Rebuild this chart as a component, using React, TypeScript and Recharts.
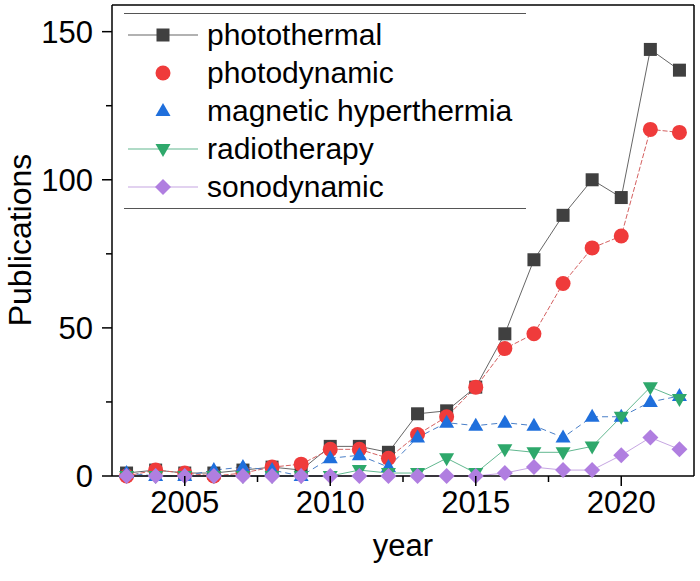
import { LineChart, Line, XAxis, YAxis, ReferenceLine, Label } from 'recharts';

const years = [2003, 2004, 2005, 2006, 2007, 2008, 2009, 2010, 2011, 2012, 2013, 2014, 2015, 2016, 2017, 2018, 2019, 2020, 2021, 2022];
const photothermal = [1, 2, 1, 1, 2, 3, 2, 10, 10, 8, 21, 22, 30, 48, 73, 88, 100, 94, 144, 137];
const photodynamic = [0, 2, 1, 0, 1, 3, 4, 9, 9, 6, 14, 20, 30, 43, 48, 65, 77, 81, 117, 116];
const magnetic = [1, 0, 0, 2, 3, 2, 0, 6, 7, 3, 13, 18, 17, 18, 17, 13, 20, 20, 25, 27];
const radiotherapy = [0, 0, 0, 0, 0, 0, 0, 0, 2, 1, 1, 6, 1, 9, 8, 8, 10, 20, 30, 26];
const sonodynamic = [0, 0, 0, 0, 0, 0, 0, 0, 0, 0, 0, 0, 0, 1, 3, 2, 2, 7, 13, 9];

const xTicks = [2005, 2007.5, 2010, 2012.5, 2015, 2017.5, 2020];
const yTicks = [0, 25, 50, 75, 100, 125, 150];
const X_MIN = 2002.5;
const X_MAX = 2022.5;
const Y_MAX = 159;

const FONT = '"Liberation Sans", Arial, sans-serif';

type Shape = 'square' | 'circle' | 'up' | 'down' | 'diamond';

const series: { key: string; label: string; color: string; line: string; shape: Shape; dash?: string; legendLine: boolean }[] = [
  { key: 'photothermal', label: 'photothermal', color: '#404040', line: '#666666', shape: 'square', legendLine: true },
  { key: 'photodynamic', label: 'photodynamic', color: '#ef3b3b', line: '#d46060', shape: 'circle', dash: '5 2', legendLine: false },
  { key: 'magnetic', label: 'magnetic hyperthermia', color: '#1f6fdc', line: '#4a7fc8', shape: 'up', dash: '6 4', legendLine: false },
  { key: 'radiotherapy', label: 'radiotherapy', color: '#2ea86b', line: '#62b890', shape: 'down', legendLine: true },
  { key: 'sonodynamic', label: 'sonodynamic', color: '#b07ee0', line: '#c6a6e2', shape: 'diamond', legendLine: true },
];

const data = years.map((year, i) => ({
  year,
  photothermal: photothermal[i],
  photodynamic: photodynamic[i],
  magnetic: magnetic[i],
  radiotherapy: radiotherapy[i],
  sonodynamic: sonodynamic[i],
}));

function marker(shape: Shape, cx: number, cy: number, color: string) {
  switch (shape) {
    case 'square':
      return <rect x={cx - 6.5} y={cy - 6.5} width={13} height={13} fill={color} />;
    case 'circle':
      return <circle cx={cx} cy={cy} r={7.5} fill={color} />;
    case 'up':
      return <polygon points={`${cx},${cy - 8} ${cx + 7.5},${cy + 5} ${cx - 7.5},${cy + 5}`} fill={color} />;
    case 'down':
      return <polygon points={`${cx},${cy + 8} ${cx + 7.5},${cy - 5} ${cx - 7.5},${cy - 5}`} fill={color} />;
    default:
      return <polygon points={`${cx},${cy - 8} ${cx + 8},${cy} ${cx},${cy + 8} ${cx - 8},${cy}`} fill={color} />;
  }
}

function XTick({ x, y, payload }: any) {
  const major = payload.value % 5 === 0;
  return (
    <g>
      <line x1={x} x2={x} y1={y} y2={y + (major ? 10 : 6)} stroke="#000" strokeWidth={1.5} />
      {major && (
        <text x={x} y={y + 37} textAnchor="middle" fontSize={31} fontFamily={FONT} fill="#000">
          {payload.value}
        </text>
      )}
    </g>
  );
}

function YTick({ x, y, payload }: any) {
  const major = payload.value % 50 === 0;
  return (
    <g>
      <line x1={x} x2={x - (major ? 10 : 6)} y1={y} y2={y} stroke="#000" strokeWidth={1.5} />
      {major && (
        <text x={x - 19} y={y + 11} textAnchor="end" fontSize={31} fontFamily={FONT} fill="#000">
          {payload.value}
        </text>
      )}
    </g>
  );
}

function ChartLegend() {
  return (
    <div
      style={{
        position: 'absolute',
        left: 124,
        top: 13,
        width: 402,
        borderTop: '1.5px solid #555',
        borderBottom: '1.5px solid #555',
        paddingTop: 2,
        paddingBottom: 2,
        fontFamily: FONT,
        fontSize: 30,
        color: '#000',
      }}
    >
      {series.map((s) => (
        <div key={s.key} style={{ height: 38, display: 'flex', alignItems: 'center' }}>
          <svg width={83} height={38} style={{ flex: 'none' }}>
            {s.legendLine && <line x1={4} x2={74} y1={19} y2={19} stroke={s.line} strokeWidth={1.2} />}
            {marker(s.shape, 39, 19, s.color)}
          </svg>
          <span style={{ lineHeight: '38px' }}>{s.label}</span>
        </div>
      ))}
    </div>
  );
}

export default function App() {
  return (
    <div style={{ position: 'absolute', left: 0, top: 0, width: 700, height: 581, background: '#fff' }}>
      <LineChart width={700} height={581} data={data} margin={{ top: 5, right: 6, bottom: 0, left: 0 }}>
        <XAxis
          dataKey="year"
          type="number"
          domain={[X_MIN, X_MAX]}
          ticks={xTicks}
          height={105}
          tickLine={false}
          tickSize={0}
          tickMargin={0}
          tick={<XTick />}
          axisLine={{ stroke: '#000', strokeWidth: 1.5 }}
          interval={0}
        >
          <Label
            content={() => (
              <text x={403} y={556} textAnchor="middle" fontSize={31} fontFamily={FONT} fill="#000">
                year
              </text>
            )}
          />
        </XAxis>
        <YAxis
          type="number"
          domain={[0, Y_MAX]}
          ticks={yTicks}
          width={112}
          tickLine={false}
          tickSize={0}
          tickMargin={0}
          tick={<YTick />}
          axisLine={{ stroke: '#000', strokeWidth: 1.5 }}
          interval={0}
        >
          <Label
            content={() => (
              <text x={31} y={240} transform="rotate(-90 31 240)" textAnchor="middle" fontSize={32} fontFamily={FONT} fill="#000">
                Publications
              </text>
            )}
          />
        </YAxis>
        <ReferenceLine y={Y_MAX} stroke="#000" strokeWidth={1.5} />
        <ReferenceLine x={X_MAX} stroke="#000" strokeWidth={1.5} />
        {series.map((s) => (
          <Line
            key={s.key}
            dataKey={s.key}
            type="linear"
            stroke={s.line}
            strokeWidth={1}
            strokeDasharray={s.dash}
            isAnimationActive={false}
            dot={(p: any) => <g key={`${s.key}-${p.index}`}>{marker(s.shape, p.cx, p.cy, s.color)}</g>}
            activeDot={false}
          />
        ))}
      </LineChart>
      <ChartLegend />
    </div>
  );
}
